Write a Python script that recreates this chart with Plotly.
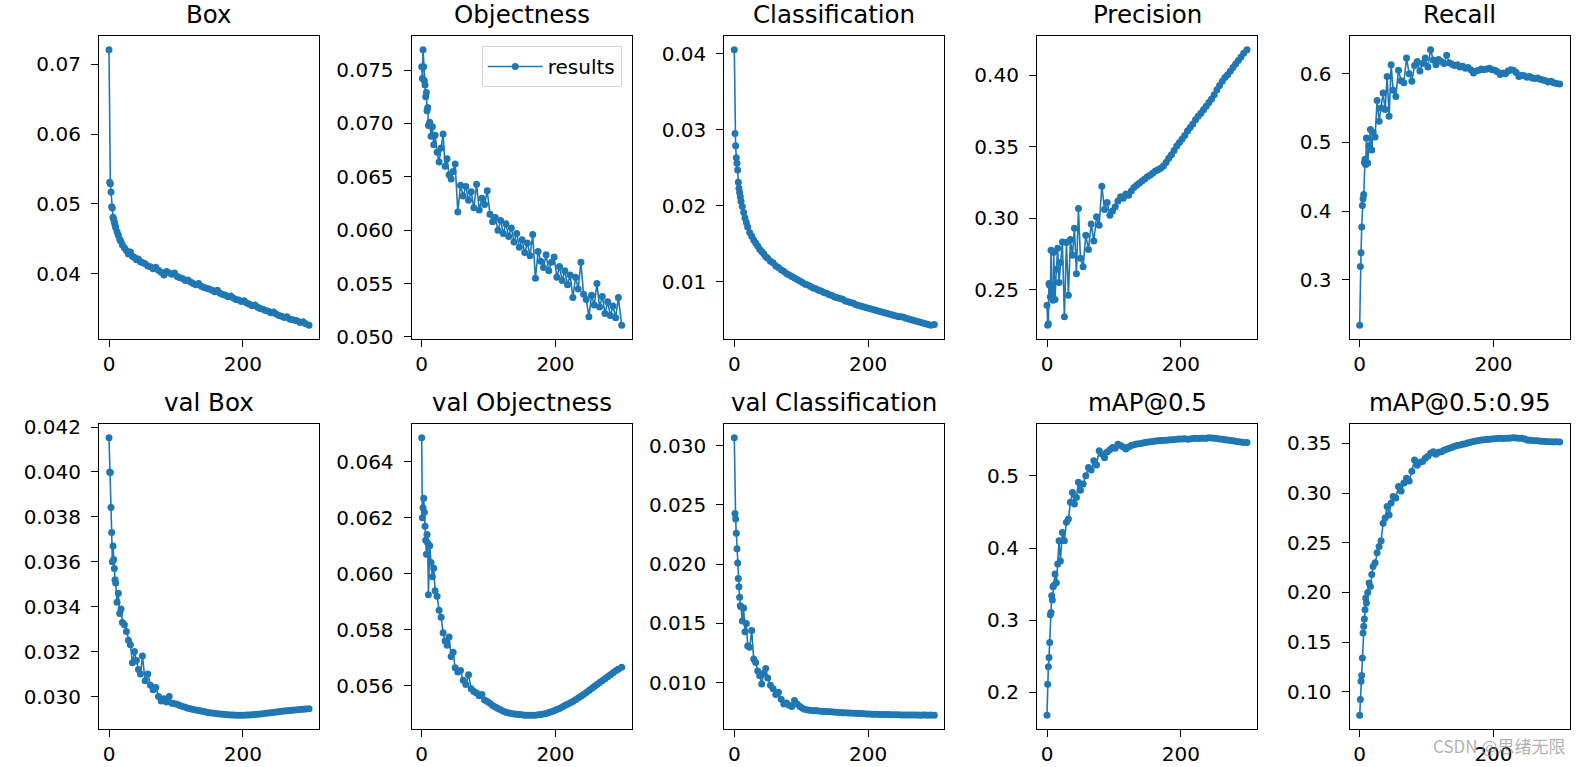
import plotly.graph_objects as go

epochs = [0, 1, 2, 3, 4, 5, 6, 7, 8, 9, 10,
          12, 14, 16, 18, 20,
          23, 26, 29, 32, 35, 38, 41, 44, 47, 50,
          54, 58, 62, 66, 70, 74, 78, 82, 86, 90, 94,
          98, 102, 106, 110, 114, 118, 122, 126, 130, 134, 138,
          142, 146, 150, 154, 158, 162, 166, 170, 174, 178, 182,
          186, 190, 194, 198, 202, 206, 210, 214, 218, 222, 226,
          230, 234, 238, 242, 246, 250, 254, 258, 262, 266, 270,
          274, 278, 282, 286, 290, 294, 299]

box = [0.0721, 0.0531, 0.0529, 0.0517, 0.0496, 0.0494, 0.0481, 0.0478, 0.0474, 0.0470, 0.0466,
       0.0460, 0.0455, 0.0449, 0.0446, 0.0441,
       0.0437, 0.0433, 0.0428, 0.0431, 0.0425, 0.0423, 0.0420, 0.0421, 0.0417, 0.0416,
       0.0414, 0.0411, 0.0410, 0.0407, 0.0409, 0.0405, 0.0402, 0.0398, 0.0403, 0.0401, 0.0399,
       0.0401, 0.0396, 0.0394, 0.0393, 0.0390, 0.0391, 0.0388, 0.0386, 0.0384, 0.0386, 0.0382,
       0.0380, 0.0379, 0.0378, 0.0376, 0.0374, 0.0376, 0.0372, 0.0370, 0.0369, 0.0367, 0.0368,
       0.0365, 0.0363, 0.0362, 0.0360, 0.0361, 0.0358, 0.0356, 0.0354, 0.0355, 0.0352, 0.0350,
       0.0349, 0.0347, 0.0346, 0.0344, 0.0345, 0.0342, 0.0340, 0.0339, 0.0337, 0.0338, 0.0335,
       0.0334, 0.0333, 0.0332, 0.0330, 0.0331, 0.0328, 0.0326]

objectness = [0.0753, 0.0742, 0.0769, 0.0753, 0.0740, 0.0736, 0.0725, 0.0729, 0.0712, 0.0715, 0.0698,
              0.0701, 0.0688, 0.0697, 0.0680, 0.0689,
              0.0673, 0.0664, 0.0677, 0.0690, 0.0660, 0.0667, 0.0652, 0.0648, 0.0655, 0.0662,
              0.0617, 0.0642, 0.0632, 0.0641, 0.0628, 0.0636, 0.0621, 0.0643, 0.0619, 0.0630, 0.0624,
              0.0637, 0.0615, 0.0608, 0.0612, 0.0600, 0.0609, 0.0597, 0.0606, 0.0594, 0.0602, 0.0589,
              0.0597, 0.0584, 0.0591, 0.0579, 0.0588, 0.0576, 0.0596, 0.0555, 0.0580, 0.0571, 0.0565,
              0.0577, 0.0562, 0.0570, 0.0575, 0.0556, 0.0566, 0.0553, 0.0562, 0.0549, 0.0558, 0.0537,
              0.0556, 0.0545, 0.0570, 0.0540, 0.0535, 0.0519, 0.0539, 0.0530, 0.0550, 0.0528, 0.0538,
              0.0522, 0.0533, 0.0520, 0.0529, 0.0518, 0.0537, 0.0511]

classification = [0.0405, 0.0295, 0.0279, 0.0263, 0.0256, 0.0247, 0.0231, 0.0223, 0.0217, 0.0212, 0.0206,
                  0.0199, 0.0191, 0.0184, 0.0178, 0.0172,
                  0.0165, 0.0160, 0.0155, 0.0151, 0.0147, 0.0143, 0.0140, 0.0137, 0.0133, 0.0131,
                  0.0127, 0.0125, 0.0121, 0.0119, 0.0116, 0.0114, 0.0111, 0.0109, 0.0107, 0.0105, 0.0103,
                  0.0101, 0.0099, 0.0097, 0.0096, 0.0094, 0.0092, 0.0091, 0.0089, 0.0088, 0.0086, 0.0085,
                  0.0083, 0.0082, 0.0080, 0.0079, 0.0078, 0.0077, 0.0075, 0.0074, 0.0073, 0.0072, 0.0070,
                  0.0069, 0.0068, 0.0067, 0.0066, 0.0065, 0.0064, 0.0063, 0.0062, 0.0061, 0.0060, 0.0059,
                  0.0058, 0.0057, 0.0056, 0.0055, 0.0054, 0.0054, 0.0053, 0.0052, 0.0051, 0.0050, 0.0049,
                  0.0048, 0.0047, 0.0046, 0.0045, 0.0044, 0.0043, 0.0044]

precision = [0.2390, 0.2250, 0.2260, 0.2542, 0.2530, 0.2449, 0.2775, 0.2500, 0.2450, 0.2425, 0.2760,
             0.2430, 0.2640, 0.2790, 0.2550, 0.2690,
             0.2834, 0.2309, 0.2830, 0.2460, 0.2850, 0.2740, 0.2930, 0.2610, 0.3067, 0.2720,
             0.2660, 0.2880, 0.2780, 0.2960, 0.2840, 0.3010, 0.2950, 0.3224, 0.3060, 0.3110, 0.3020,
             0.3050, 0.3080, 0.3120, 0.3150, 0.3140, 0.3170, 0.3160, 0.3190, 0.3215, 0.3230, 0.3245,
             0.3260, 0.3275, 0.3290, 0.3300, 0.3315, 0.3330, 0.3340, 0.3350, 0.3365, 0.3390, 0.3420,
             0.3445, 0.3475, 0.3505, 0.3530, 0.3555, 0.3580, 0.3610, 0.3635, 0.3660, 0.3690, 0.3715,
             0.3735, 0.3760, 0.3785, 0.3810, 0.3835, 0.3865, 0.3900, 0.3930, 0.3960, 0.3985, 0.4005,
             0.4030, 0.4055, 0.4080, 0.4105, 0.4130, 0.4155, 0.4180]

recall = [0.2337, 0.3192, 0.3394, 0.3769, 0.4082, 0.4180, 0.4240, 0.4707, 0.4755, 0.4680, 0.5063,
          0.4700, 0.4950, 0.5190, 0.4890, 0.5150,
          0.5080, 0.5610, 0.5310, 0.5500, 0.5720, 0.5480, 0.5960, 0.5380, 0.6130, 0.5760,
          0.5670, 0.6050, 0.5900, 0.5870, 0.6230, 0.6000, 0.5890, 0.6120, 0.6180, 0.6040, 0.6150,
          0.6230, 0.6100, 0.6350, 0.6200, 0.6130, 0.6210, 0.6180, 0.6150, 0.6270, 0.6160, 0.6140,
          0.6120, 0.6130, 0.6100, 0.6110, 0.6080, 0.6090, 0.6060, 0.6010, 0.6040, 0.6050, 0.6070,
          0.6060, 0.6070, 0.6080, 0.6060, 0.6050, 0.6030, 0.5990, 0.6010, 0.6000, 0.6040, 0.6060,
          0.6050, 0.6020, 0.5960, 0.5980, 0.5970, 0.5950, 0.5960, 0.5940, 0.5930, 0.5940, 0.5920,
          0.5910, 0.5900, 0.5880, 0.5890, 0.5870, 0.5860, 0.5850]

val_box = [0.04152, 0.04000, 0.03998, 0.03842, 0.03730, 0.03600, 0.03670, 0.03610, 0.03570, 0.03520, 0.03505,
           0.03420, 0.03460, 0.03370, 0.03390, 0.03330,
           0.03320, 0.03290, 0.03250, 0.03230, 0.03150, 0.03200, 0.03160, 0.03120, 0.03100, 0.03180,
           0.03070, 0.03100, 0.03050, 0.03030, 0.03040, 0.03000, 0.02980, 0.02990, 0.02975, 0.03000, 0.02970,
           0.02968, 0.02965, 0.02960, 0.02955, 0.02952, 0.02948, 0.02945, 0.02942, 0.02940, 0.02938, 0.02935,
           0.02933, 0.02930, 0.02928, 0.02926, 0.02925, 0.02923, 0.02922, 0.02921, 0.02920, 0.02919, 0.02918,
           0.02918, 0.02917, 0.02917, 0.02917, 0.02917, 0.02918, 0.02918, 0.02919, 0.02920, 0.02921, 0.02922,
           0.02923, 0.02925, 0.02926, 0.02928, 0.02929, 0.02931, 0.02932, 0.02934, 0.02935, 0.02937, 0.02938,
           0.02939, 0.02940, 0.02941, 0.02942, 0.02943, 0.02944, 0.02945]

val_objectness = [0.06485, 0.06200, 0.06236, 0.06270, 0.06220, 0.06170, 0.06120, 0.06070, 0.06140, 0.06110, 0.05925,
                  0.06100, 0.06040, 0.05990, 0.06020, 0.05940,
                  0.05920, 0.05870, 0.05845, 0.05790, 0.05760, 0.05745, 0.05775, 0.05705, 0.05720, 0.05665,
                  0.05650, 0.05655, 0.05620, 0.05605, 0.05640, 0.05590, 0.05580, 0.05575, 0.05565, 0.05570, 0.05550,
                  0.05545, 0.05538, 0.05530, 0.05525, 0.05520, 0.05515, 0.05510, 0.05506, 0.05504, 0.05502, 0.05500,
                  0.05499, 0.05498, 0.05497, 0.05496, 0.05496, 0.05496, 0.05496, 0.05496, 0.05497, 0.05498, 0.05500,
                  0.05502, 0.05505, 0.05508, 0.05512, 0.05516, 0.05520, 0.05525, 0.05530, 0.05535, 0.05540, 0.05545,
                  0.05551, 0.05557, 0.05563, 0.05570, 0.05577, 0.05584, 0.05591, 0.05598, 0.05605, 0.05612, 0.05619,
                  0.05626, 0.05633, 0.05640, 0.05647, 0.05654, 0.05660, 0.05667]

val_classification = [0.03065, 0.02428, 0.02380, 0.02260, 0.02130, 0.02010, 0.01880, 0.01810, 0.01720, 0.01650, 0.01640,
                      0.01520, 0.01630, 0.01430, 0.01500, 0.01310,
                      0.01300, 0.01440, 0.01200, 0.01170, 0.01100, 0.01060, 0.00990, 0.01080, 0.01120, 0.01040,
                      0.00980, 0.00950, 0.00900, 0.00920, 0.00860, 0.00820, 0.00830, 0.00810, 0.00800, 0.00850, 0.00820,
                      0.00800, 0.00785, 0.00775, 0.00770, 0.00768, 0.00765, 0.00766, 0.00762, 0.00760, 0.00758, 0.00757,
                      0.00756, 0.00755, 0.00752, 0.00751, 0.00750, 0.00748, 0.00747, 0.00745, 0.00744, 0.00743, 0.00742,
                      0.00741, 0.00740, 0.00738, 0.00737, 0.00736, 0.00735, 0.00734, 0.00734, 0.00733, 0.00733, 0.00732,
                      0.00732, 0.00731, 0.00731, 0.00730, 0.00730, 0.00729, 0.00729, 0.00728, 0.00728, 0.00729, 0.00728,
                      0.00728, 0.00727, 0.00729, 0.00728, 0.00727, 0.00728, 0.00727]

map50 = [0.1686, 0.2115, 0.2355, 0.2485, 0.2692, 0.3075, 0.3106, 0.3340, 0.3280, 0.3462, 0.3480,
         0.3640, 0.3520, 0.3780, 0.4100, 0.3820,
         0.4216, 0.4100, 0.4355, 0.4400, 0.4632, 0.4770, 0.4608, 0.4700, 0.4910, 0.4800,
         0.4885, 0.5000, 0.5115, 0.5080, 0.5208, 0.5150, 0.5346, 0.5300, 0.5250, 0.5330, 0.5360,
         0.5392, 0.5380, 0.5438, 0.5420, 0.5400, 0.5370, 0.5400, 0.5420, 0.5430, 0.5440, 0.5445,
         0.5450, 0.5460, 0.5465, 0.5470, 0.5475, 0.5480, 0.5484, 0.5488, 0.5490, 0.5492, 0.5495,
         0.5498, 0.5500, 0.5505, 0.5508, 0.5510, 0.5512, 0.5505, 0.5510, 0.5515, 0.5518, 0.5515,
         0.5518, 0.5520, 0.5521, 0.5525, 0.5522, 0.5518, 0.5515, 0.5510, 0.5505, 0.5500, 0.5495,
         0.5490, 0.5485, 0.5478, 0.5472, 0.5468, 0.5462, 0.5461]

map50_95 = [0.0766, 0.0923, 0.1107, 0.1164, 0.1341, 0.1592, 0.1659, 0.1733, 0.1827, 0.1944, 0.1894,
            0.2000, 0.2094, 0.2060, 0.2180, 0.2262,
            0.2300, 0.2400, 0.2463, 0.2520, 0.2697, 0.2750, 0.2864, 0.2780, 0.2900, 0.2964,
            0.2950, 0.3065, 0.3020, 0.3100, 0.3149, 0.3120, 0.3220, 0.3333, 0.3280, 0.3310, 0.3316,
            0.3350, 0.3370, 0.3400, 0.3416, 0.3390, 0.3410, 0.3416, 0.3430, 0.3440, 0.3450, 0.3460,
            0.3470, 0.3478, 0.3483, 0.3490, 0.3497, 0.3505, 0.3512, 0.3518, 0.3523, 0.3528, 0.3533,
            0.3535, 0.3538, 0.3540, 0.3543, 0.3545, 0.3548, 0.3550, 0.3548, 0.3552, 0.3550, 0.3553,
            0.3555, 0.3553, 0.3550, 0.3552, 0.3545, 0.3533, 0.3530, 0.3528, 0.3525, 0.3527, 0.3522,
            0.3520, 0.3518, 0.3515, 0.3517, 0.3514, 0.3517, 0.3513]

titles = ["Box", "Objectness", "Classification", "Precision", "Recall",
          "val Box", "val Objectness", "val Classification", "mAP@0.5", "mAP@0.5:0.95"]
series = [box, objectness, classification, precision, recall,
          val_box, val_objectness, val_classification, map50, map50_95]
y_dtick = [0.01, 0.005, 0.01, 0.05, 0.1, 0.002, 0.002, 0.005, 0.1, 0.05]
y_format = [".2f", ".3f", ".2f", ".2f", ".1f", ".3f", ".3f", ".3f", ".1f", ".2f"]
x_ticks = [0, 200]

W, H = 1580, 767
col_left = [99, 411.7, 724.3, 1037, 1349.7]
col_w = 220
row_top = [36, 424]
row_bot = [339, 729]
BLUE = "#1f77b4"
FONT = "DejaVu Sans"

fig = go.Figure()
layout = dict(width=W, height=H,
              margin=dict(l=0, r=0, t=0, b=0, pad=0, autoexpand=False),
              paper_bgcolor="white", plot_bgcolor="white",
              font=dict(family=FONT, size=20, color="black"),
              annotations=[])

n_ep = epochs[-1] - epochs[0]
xr = [epochs[0] - 0.05 * n_ep, epochs[-1] + 0.05 * n_ep]

for i, (title, ys) in enumerate(zip(titles, series)):
    k = i + 1
    r, c = divmod(i, 5)
    xs = "" if k == 1 else str(k)
    x0 = col_left[c] / W
    x1 = (col_left[c] + col_w) / W
    y0 = 1 - row_bot[r] / H
    y1 = 1 - row_top[r] / H
    lo, hi = min(ys), max(ys)
    pad = 0.05 * (hi - lo)
    fig.add_trace(go.Scatter(
        x=epochs, y=ys, mode="lines+markers", name="results",
        showlegend=(i == 1),
        line=dict(color=BLUE, width=1.6),
        marker=dict(color=BLUE, size=7, line=dict(width=0)),
        xaxis="x" + xs, yaxis="y" + xs))
    common = dict(showline=True, linecolor="black", linewidth=1.2, mirror=True,
                  ticks="outside", ticklen=7, tickwidth=1.2, tickcolor="black",
                  showgrid=False, zeroline=False, automargin=False,
                  tickfont=dict(family=FONT, size=20, color="black"))
    layout["xaxis" + xs] = dict(domain=[x0, x1], anchor="y" + xs, range=xr,
                                tickmode="array", tickvals=x_ticks,
                                ticklabelstandoff=0, **common)
    layout["yaxis" + xs] = dict(domain=[y0, y1], anchor="x" + xs, range=[lo - pad, hi + pad],
                                tick0=0, dtick=y_dtick[i], tickformat=y_format[i],
                                ticklabelstandoff=6, **common)
    layout["annotations"].append(dict(
        text=title, xref="paper", yref="paper", x=(x0 + x1) / 2, y=y1,
        xanchor="center", yanchor="bottom", yshift=5, showarrow=False,
        font=dict(family=FONT, size=24.5, color="black")))

layout["annotations"].append(dict(
    text="CSDN @思绪无限", xref="paper", yref="paper", x=1567 / W, y=1 - 760 / H,
    xanchor="right", yanchor="bottom", showarrow=False,
    font=dict(family="Noto Sans CJK SC", size=17, color="rgba(150,150,150,0.75)")))

layout["legend"] = dict(x=621.7 / W, y=1 - 46 / H, xanchor="right", yanchor="top",
                        bgcolor="rgba(255,255,255,0.8)", bordercolor="#d4d4d4", borderwidth=1,
                        itemwidth=55,
                        font=dict(family=FONT, size=20, color="black"))

fig.update_layout(**layout)
fig.write_html("out.html", config={"displayModeBar": False},
               post_script="document.body.style.margin='0';document.body.style.padding='0';"
                           "document.body.style.overflow='hidden';")
